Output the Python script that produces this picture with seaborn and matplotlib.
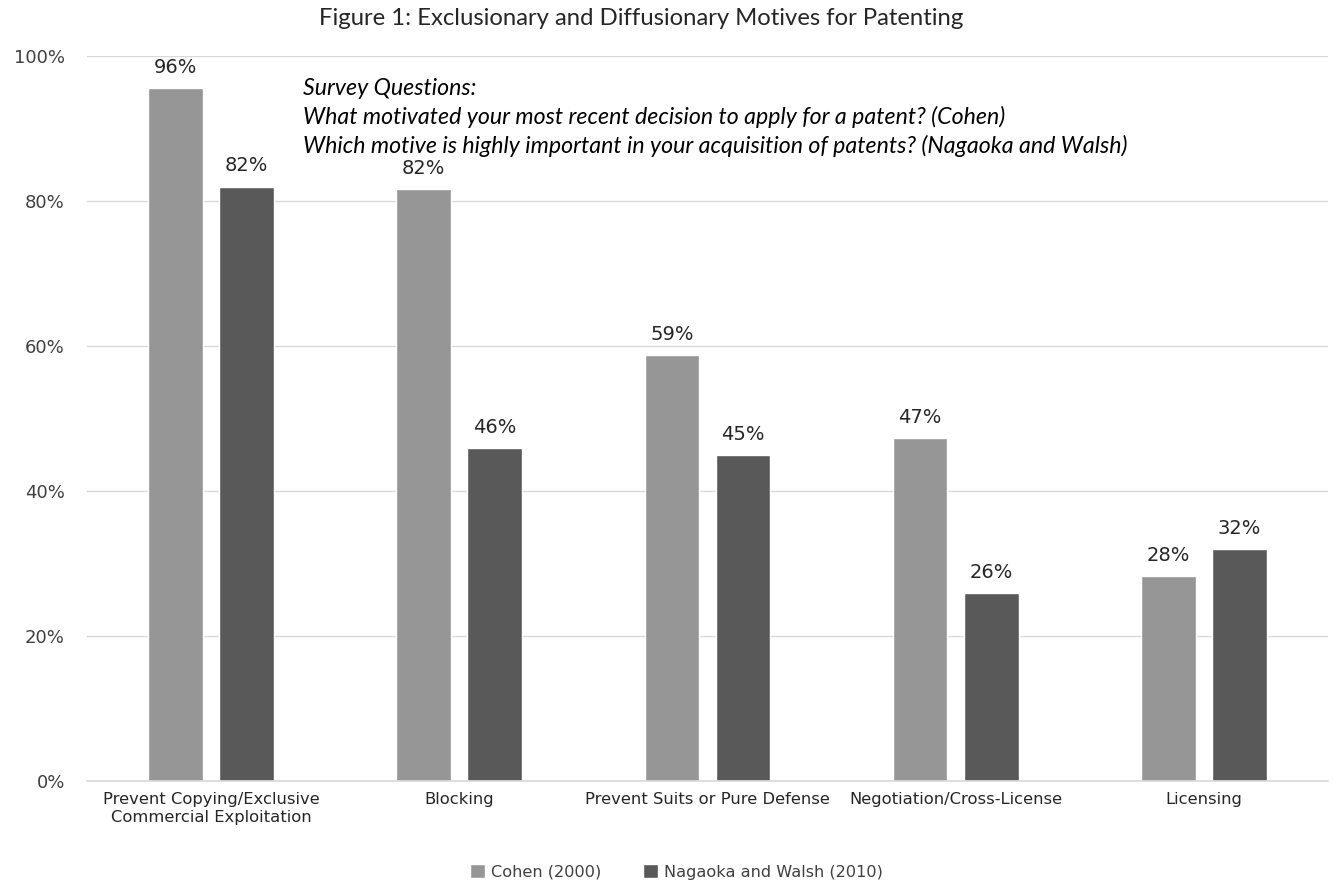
import matplotlib
matplotlib.use("Agg")
import matplotlib.pyplot as plt
import matplotlib.ticker as mtick
import pandas as pd
import seaborn as sns

# chart data (percent)
categories = [
    "Prevent Copying/Exclusive\nCommercial Exploitation",
    "Blocking",
    "Prevent Suits or Pure Defense",
    "Negotiation/Cross-License",
    "Licensing",
]
series = ["Cohen (2000)", "Nagaoka and Walsh (2010)"]
cohen = [95.6, 81.7, 58.7, 47.3, 28.3]
nagaoka = [82.0, 45.9, 44.9, 25.9, 32.0]
labels_cohen = ["96%", "82%", "59%", "47%", "28%"]
labels_nagaoka = ["82%", "46%", "45%", "26%", "32%"]

df = pd.DataFrame({
    "motive": categories * 2,
    "study": [series[0]] * len(categories) + [series[1]] * len(categories),
    "value": cohen + nagaoka,
})

sns.set_theme(style="white")
plt.rcParams["font.family"] = ["DejaVu Sans"]

fig = plt.figure(figsize=(13.33, 8.82), dpi=100)
ax = fig.add_axes([0.0653, 0.1145, 0.9309, 0.822])

sns.barplot(data=df, x="motive", y="value", hue="study",
            palette=["#969696", "#595959"], width=0.573, gap=0.23,
            saturation=1, ax=ax, legend=True)

ax.set_ylim(0, 100)
ax.set_xlim(-0.5, len(categories) - 0.5)
ax.yaxis.set_major_locator(mtick.MultipleLocator(20))
ax.yaxis.set_major_formatter(mtick.PercentFormatter(decimals=0))
ax.grid(axis="y", color="#d9d9d9", linewidth=1)
ax.set_axisbelow(True)
for s in ["top", "right", "left"]:
    ax.spines[s].set_visible(False)
ax.spines["bottom"].set_color("#d9d9d9")
ax.set_xlabel("")
ax.set_ylabel("")
ax.tick_params(axis="y", labelsize=13, colors="#404040", length=0, pad=16)
ax.tick_params(axis="x", labelsize=11.8, colors="#262626", length=0, pad=8)

# data labels
for cont, labs in zip(ax.containers, [labels_cohen, labels_nagaoka]):
    ax.bar_label(cont, labels=labs, padding=8, fontsize=14, color="#262626")

fig.text(0.481, 0.979, "Figure 1: Exclusionary and Diffusionary Motives for Patenting",
         ha="center", va="center", fontsize=17.2, family="Lato", color="#262626")

survey = ("Survey Questions:\n"
          "What motivated your most recent decision to apply for a patent? (Cohen)\n"
          "Which motive is highly important in your acquisition of patents? (Nagaoka and Walsh)")
fig.text(0.2273, 0.912, survey, ha="left", va="top", fontsize=16.7,
         family="Lato", style="italic", color="#000000", linespacing=1.38)

leg = ax.legend(loc="upper center", bbox_to_anchor=(0.475, -0.095), ncol=2,
                frameon=False, fontsize=11.6, handlelength=0.9, handleheight=0.9,
                columnspacing=2.6, handletextpad=0.4)
for t in leg.get_texts():
    t.set_color("#404040")

fig.savefig("out.png", dpi=100)
